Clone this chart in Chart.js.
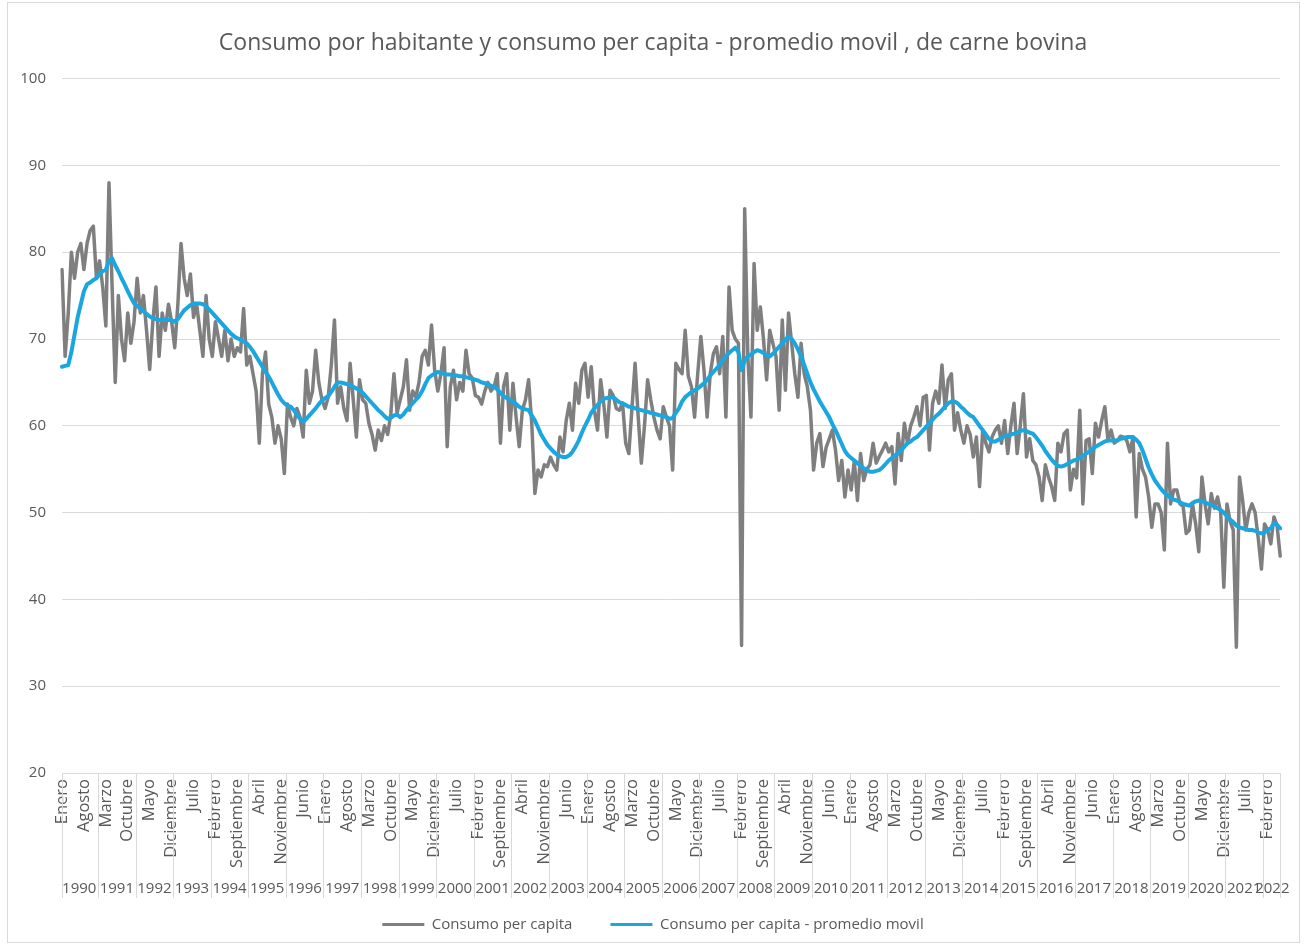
<!DOCTYPE html>
<html>
<head>
<meta charset="utf-8">
<script src="https://cdn.jsdelivr.net/npm/chart.js@4.4.1/dist/chart.umd.min.js"></script>
<style>
  body { margin: 0; background: #fff; }
  #wrap { width: 1306px; height: 945px; }
</style>
</head>
<body>
<div id="wrap"><canvas id="chart" width="1306" height="945"></canvas></div>
<script>
const months = ["Enero", "Febrero", "Marzo", "Abril", "Mayo", "Junio", "Julio",
  "Agosto", "Septiembre", "Octubre", "Noviembre", "Diciembre"];

const years = [1990, 1991, 1992, 1993, 1994, 1995, 1996, 1997, 1998, 1999, 2000,
  2001, 2002, 2003, 2004, 2005, 2006, 2007, 2008, 2009, 2010, 2011, 2012, 2013,
  2014, 2015, 2016, 2017, 2018, 2019, 2020, 2021, 2022];

// Consumo per capita (one row per year, Enero..Diciembre)
const consumo = [
  78, 68, 73, 80, 77, 80, 81, 78, 81, 82.5, 83, 77,
  79, 76, 71.5, 88, 76, 65, 75, 70, 67.5, 73, 69.5, 72,
  77, 73, 75, 71, 66.5, 72, 76, 68, 73, 71, 74, 72,
  69, 74, 81, 77, 75, 77.5, 72.5, 74, 71, 68, 75, 70,
  68, 72, 70, 68, 71, 67.5, 70, 68, 69, 68.5, 73.5, 67,
  68, 66, 64, 58, 66, 68.5, 62.5, 61, 58, 60, 58.5, 54.5,
  62.5, 61, 60, 62, 61, 58.7, 66.4, 62.6, 64, 68.7, 65, 63,
  62, 63.3, 67, 72.2, 62.6, 64.5, 62, 60.6, 67.2, 63, 58.7, 65.3,
  63, 62.6, 60.3, 59, 57.2, 59.5, 58.3, 60, 59, 61.4, 66, 61.5,
  63, 64.5, 67.6, 61.8, 64, 63.3, 65, 68, 68.7, 67, 71.6, 66.4,
  64, 66, 69, 57.6, 64.5, 66.4, 63, 65, 64, 68.7, 66, 65.5,
  63.5, 63.3, 62.5, 64, 65, 64, 64.5, 66, 58, 64.5, 66, 59.5,
  64.9, 61, 57.6, 61.8, 63, 65.3, 60.3, 52.2, 54.9, 54.1, 55.5, 55.3,
  56.4, 55.5, 54.9, 58.7, 57, 60.6, 62.6, 59.5, 64.9, 62.6, 66.4, 67.2,
  63.3, 66.8, 61.8, 59.5, 65.3, 62.5, 58.7, 64.1, 63.5, 62, 61.8, 62.6,
  58, 56.8, 62, 67.2, 61, 55.7, 60, 65.3, 63, 61, 59.5, 58.5,
  62.2, 61, 60, 54.9, 67.2, 66.5, 66, 71, 65.7, 64.5, 61, 66,
  70.3, 66.4, 61, 66, 68.3, 69.1, 66, 70.3, 61, 76, 71, 70,
  69.5, 34.7, 85, 68, 61, 78.7, 71, 73.7, 70, 65.3, 71, 69.5,
  68, 61.8, 72.2, 64.1, 73, 69.5, 66, 63.3, 69.5, 66, 64.5, 61.8,
  54.9, 58, 59.1, 55.3, 57.5, 58.5, 59.5, 57.2, 53.7, 56, 51.8, 54.9,
  52.6, 56, 51.4, 56.8, 53.7, 55, 55.5, 58, 55.7, 56.5, 57.2, 58,
  57, 57.6, 53.3, 59.1, 56, 60.3, 58, 60, 61, 62.2, 60, 63.3,
  63.5, 57.2, 62.6, 64, 62.6, 67, 62, 65.3, 66, 59.5, 61.5, 59.5,
  58, 60, 59, 56.4, 58.7, 53, 59.5, 58, 57, 58.7, 59.5, 60,
  58, 60.6, 56.8, 60, 62.6, 56.8, 60, 63.7, 56.4, 58.5, 56, 55.5,
  54.1, 51.4, 55.5, 54.1, 53, 51.4, 58, 57, 59.1, 59.5, 52.6, 55,
  54, 61.8, 51, 58.3, 58.5, 54.5, 60.3, 58.7, 60.6, 62.2, 58.3, 59.5,
  58, 58.3, 58.8, 58.7, 58.3, 57, 58.7, 49.5, 56.8, 55, 54.1, 51.8,
  48.3, 51, 51, 50, 45.7, 58, 51, 52.6, 52.6, 51, 50.7, 47.6,
  48, 51, 48.7, 45.5, 54.1, 51, 48.7, 52.2, 50.5, 51.8, 50, 41.4,
  51, 49, 48, 34.5, 54.1, 51.4, 48, 50, 51, 50, 47, 43.5,
  48.7, 48, 46.4, 49.5, 48.5, 45
];

// Consumo per capita - promedio movil
const promedio = [
  66.8, 66.9, 67, 68.5, 70.5, 72.5, 74, 75.5, 76.3, 76.5, 76.8, 77,
  77.5, 77.8, 78, 79, 79.3, 78.5, 77.8, 77, 76.3, 75.5, 74.8, 74.1,
  73.8, 73.5, 73.2, 72.9, 72.6, 72.4, 72.3, 72.2, 72.2, 72.2, 72.2, 72.2,
  72, 72.3, 72.8, 73.3, 73.6, 73.9, 74.1, 74.1, 74.1, 74, 73.8, 73.4,
  73, 72.6, 72.2, 71.8, 71.4, 71, 70.6, 70.3, 70.1, 69.9, 69.7, 69.5,
  69.1, 68.6, 68, 67.4, 66.8, 66.2, 65.7, 65, 64.3, 63.6, 63, 62.6,
  62.3, 62.2, 61.8, 61.3, 60.8, 60.5, 60.8, 61.2, 61.6, 62, 62.5, 62.9,
  63.2, 63.4, 63.9, 64.5, 65, 65, 64.9, 64.8, 64.7, 64.5, 64.3, 64.1,
  63.8, 63.4, 63, 62.6, 62.2, 61.8, 61.5, 61.1, 60.8, 60.9, 61.2, 61.3,
  61, 61.3, 61.8, 62.2, 62.6, 63, 63.4, 64, 64.8, 65.5, 65.8, 66,
  66.2, 66.1, 66, 65.9, 65.9, 65.8, 65.8, 65.7, 65.7, 65.6, 65.5, 65.4,
  65.3, 65.2, 65, 64.9, 64.8, 64.6, 64.5, 64.2, 63.8, 63.4, 63.2, 63,
  62.8, 62.5, 62.2, 62, 61.9, 61.8, 61.2, 60.6, 59.8, 59, 58.4, 57.8,
  57.4, 57, 56.7, 56.5, 56.4, 56.4, 56.6, 57, 57.6, 58.3, 59.2, 60,
  60.7, 61.5, 62, 62.4, 62.8, 63.1, 63.2, 63.3, 63.3, 63, 62.7, 62.6,
  62.4, 62.2, 62.2, 62, 61.9, 61.8, 61.7, 61.6, 61.5, 61.4, 61.3, 61.2,
  61.1, 61, 60.8, 60.9, 61.5, 62, 62.8, 63.3, 63.6, 63.9, 64.1, 64.3,
  64.6, 64.9, 65.3, 65.8, 66.2, 66.6, 67, 67.6, 68, 68.4, 68.7, 69,
  68.5, 66.4, 67.5, 68, 68.2, 68.5, 68.7, 68.6, 68.4, 68.1, 68, 68.3,
  68.7, 69.1, 69.5, 69.9, 70.3, 70, 69.5, 68.8, 68, 67, 66, 65,
  64.2, 63.5, 62.8, 62.2, 61.6, 61, 60.2, 59.5, 58.7, 57.9, 57.1, 56.6,
  56.3, 56, 55.7, 55.4, 55.1, 54.9, 54.7, 54.7, 54.8, 54.9, 55.2, 55.6,
  56, 56.3, 56.6, 56.8, 57.2, 57.6, 58, 58.2, 58.5, 58.7, 59.1, 59.5,
  59.9, 60.3, 60.7, 61.1, 61.4, 61.8, 62.2, 62.6, 62.8, 62.8, 62.6, 62.2,
  61.9, 61.5, 61.2, 61, 60.5, 60, 59.5, 59, 58.5, 58.2, 58.2, 58.4,
  58.6, 58.8, 58.9, 59, 59.1, 59.2, 59.4, 59.5, 59.4, 59.2, 59.1, 58.7,
  58.2, 57.7, 57.1, 56.6, 56.1, 55.7, 55.4, 55.3, 55.4, 55.6, 55.8, 56,
  56.1, 56.3, 56.5, 56.8, 57, 57.3, 57.6, 57.8, 58, 58.2, 58.3, 58.3,
  58.3, 58.3, 58.5, 58.6, 58.7, 58.7, 58.7, 58.4, 58, 57.2, 56.2, 55.2,
  54.4, 53.7, 53.2, 52.7, 52.3, 52, 51.7, 51.5, 51.4, 51.2, 51, 50.9,
  50.8, 51.1, 51.3, 51.4, 51.3, 51.2, 51, 50.9, 50.7, 50.5, 50.3, 50,
  49.6, 49.2, 48.9, 48.5, 48.3, 48.2, 48.1, 48, 48, 47.9, 47.7, 47.6,
  47.7, 48, 48.2, 48.8, 48.6, 48.2
];

// month name for every point
let labels = [];
years.forEach(y => months.forEach(m => {
  if (labels.length < consumo.length) labels.push(m);
}));

const textColor = "#595959";
const gridColor = "#d9d9d9";
Chart.defaults.font.family = '"Open Sans", sans-serif';

// white background and outer frame
const frame = {
  id: "frame",
  beforeDraw(chart) {
    let ctx = chart.ctx;
    ctx.save();
    ctx.fillStyle = "#fff";
    ctx.fillRect(0, 0, chart.width, chart.height);
    ctx.strokeStyle = gridColor;
    ctx.lineWidth = 1;
    ctx.strokeRect(7.5, 2.5, chart.width - 14, chart.height - 5);
    ctx.restore();
  }
};

// second level of the category axis: years with separators
const yearAxis = {
  id: "yearAxis",
  afterDraw(chart) {
    let x = chart.scales.x, ctx = chart.ctx;
    let top = chart.chartArea.bottom;
    ctx.save();
    ctx.strokeStyle = gridColor;
    ctx.lineWidth = 1;
    ctx.fillStyle = textColor;
    ctx.font = '15px "Open Sans"';
    ctx.textAlign = "center";
    ctx.textBaseline = "middle";
    years.forEach((y, k) => {
      let a = k * 12, b = Math.min(a + 11, labels.length - 1);
      let left = a === 0 ? x.left : (x.getPixelForValue(a - 1) + x.getPixelForValue(a)) / 2;
      left = Math.round(left) + 0.5;
      ctx.beginPath();
      ctx.moveTo(left, top);
      ctx.lineTo(left, top + 125);
      ctx.stroke();
      ctx.fillText(String(y), (x.getPixelForValue(a) + x.getPixelForValue(b)) / 2, top + 116);
    });
    let right = Math.round(x.right) + 0.5;
    ctx.beginPath();
    ctx.moveTo(right, top);
    ctx.lineTo(right, top + 125);
    ctx.stroke();
    ctx.restore();
  }
};

new Chart(document.getElementById("chart"), {
  type: "line",
  data: {
    labels: labels,
    datasets: [
      { label: "Consumo per capita", data: consumo, borderColor: "#7f7f7f",
        backgroundColor: "#7f7f7f", borderWidth: 3.5, order: 2 },
      { label: "Consumo per capita - promedio movil", data: promedio, borderColor: "#1ca6df",
        backgroundColor: "#1ca6df", borderWidth: 4, order: 1 }
    ]
  },
  options: {
    responsive: false,
    animation: false,
    devicePixelRatio: 1,
    layout: { padding: { top: 18, right: 0, bottom: 3, left: 0 } },
    elements: {
      point: { radius: 0 },
      line: { tension: 0, borderJoinStyle: "round", borderCapStyle: "round" }
    },
    plugins: {
      title: {
        display: true,
        text: "Consumo por habitante y consumo per capita - promedio movil , de carne bovina",
        color: textColor,
        font: { size: 23, weight: "normal" },
        padding: { top: 12, bottom: 21 }
      },
      legend: {
        position: "bottom",
        labels: {
          color: textColor,
          font: { size: 15 },
          boxWidth: 42,
          boxHeight: 3,
          padding: 38,
          generateLabels: chart => chart.data.datasets.map((d, i) => ({
            text: d.label, fillStyle: d.borderColor, strokeStyle: d.borderColor,
            lineWidth: 0, hidden: false, datasetIndex: i, fontColor: textColor
          }))
        }
      },
      tooltip: { enabled: false }
    },
    scales: {
      x: {
        grid: { display: false, drawTicks: false },
        border: { display: false },
        ticks: {
          autoSkip: false, minRotation: 90, maxRotation: 90, padding: 6,
          color: textColor, font: { size: 16.5 },
          callback: (v, i) => i % 7 === 0 ? labels[i] : ""
        },
        afterFit: s => { s.height = 106; }
      },
      y: {
        min: 20, max: 100,
        grid: { color: gridColor, drawTicks: false },
        border: { display: false },
        ticks: { stepSize: 10, color: textColor, font: { size: 15 }, padding: 16 },
        afterFit: s => { s.width = 62; }
      },
      // empty right margin so title and legend centre on the whole frame
      yRight: {
        position: "right",
        grid: { display: false, drawTicks: false },
        border: { display: false },
        ticks: { display: false },
        afterFit: s => { s.width = 21; }
      }
    }
  },
  plugins: [frame, yearAxis]
});
</script>
</body>
</html>
